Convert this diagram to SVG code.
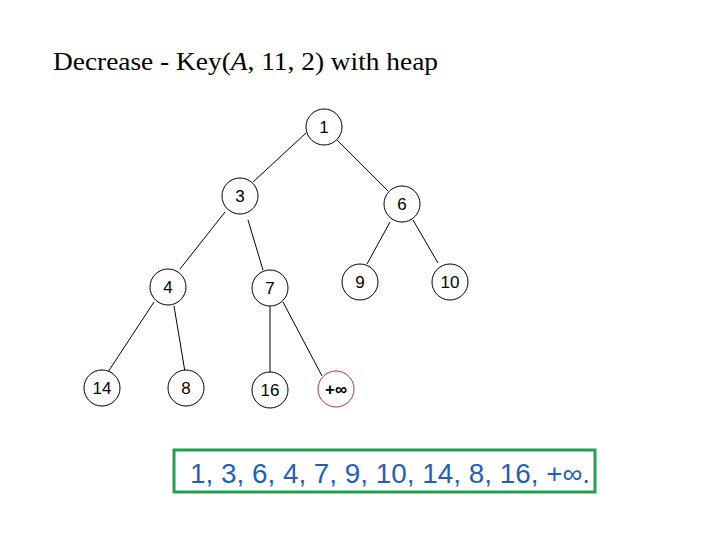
<svg xmlns="http://www.w3.org/2000/svg" width="720" height="540" viewBox="0 0 720 540">
<style>
.n circle{fill:#fff;stroke:#000;stroke-width:1}
.n text{font-family:"Liberation Sans",Arial,sans-serif;font-size:17px;text-anchor:middle;fill:#000}
.e line{stroke:#000;stroke-width:1}
</style>
<rect width="720" height="540" fill="#fff"/>
<text x="53" y="70" font-family="'Liberation Serif','Times New Roman',serif" font-size="26" textLength="385" lengthAdjust="spacingAndGlyphs">Decrease - Key(<tspan font-style="italic">A</tspan>, 11, 2) with heap</text>
<g id="edges" class="e">
<line x1="306" y1="133" x2="253" y2="182"/>
<line x1="337" y1="140" x2="388" y2="191"/>
<line x1="225" y1="212" x2="180" y2="269"/>
<line x1="248" y1="220" x2="263" y2="270"/>
<line x1="390" y1="222" x2="367" y2="264"/>
<line x1="413" y1="220" x2="438" y2="263"/>
<line x1="154" y1="302" x2="108" y2="372"/>
<line x1="174" y1="306" x2="185" y2="372"/>
<line x1="270" y1="306" x2="270" y2="372"/>
<line x1="283" y1="302" x2="322" y2="376"/>
</g>
<g id="n1" class="n"><circle cx="324" cy="127" r="18"/><text x="324" y="133">1</text></g>
<g id="n3" class="n"><circle cx="240" cy="196" r="18"/><text x="240" y="202">3</text></g>
<g id="n6" class="n"><circle cx="402" cy="204" r="18"/><text x="402" y="210">6</text></g>
<g id="n4" class="n"><circle cx="168" cy="287" r="18"/><text x="168" y="293">4</text></g>
<g id="n7" class="n"><circle cx="270" cy="288" r="18"/><text x="270" y="294">7</text></g>
<g id="n9" class="n"><circle cx="360" cy="282" r="18"/><text x="360" y="288">9</text></g>
<g id="n10" class="n"><circle cx="450" cy="282" r="18"/><text x="450" y="288">10</text></g>
<g id="n14" class="n"><circle cx="102" cy="388" r="18"/><text x="102" y="394">14</text></g>
<g id="n8" class="n"><circle cx="186" cy="388" r="18"/><text x="186" y="394">8</text></g>
<g id="n16" class="n"><circle cx="270" cy="390" r="18"/><text x="270" y="396">16</text></g>
<g id="ninf" class="n"><circle cx="336" cy="389" r="18" style="stroke:#c03030"/><text x="336" y="395" style="font-weight:bold">+∞</text></g>
<g id="result">
<rect x="174" y="450" width="421" height="42" fill="none" stroke="#22a050" stroke-width="3"/>
<text x="190" y="483" font-family="'Liberation Sans',Arial,sans-serif" font-size="27" fill="#1f5fbf" textLength="400" lengthAdjust="spacingAndGlyphs">1, 3, 6, 4, 7, 9, 10, 14, 8, 16, +∞.</text>
</g>
</svg>
